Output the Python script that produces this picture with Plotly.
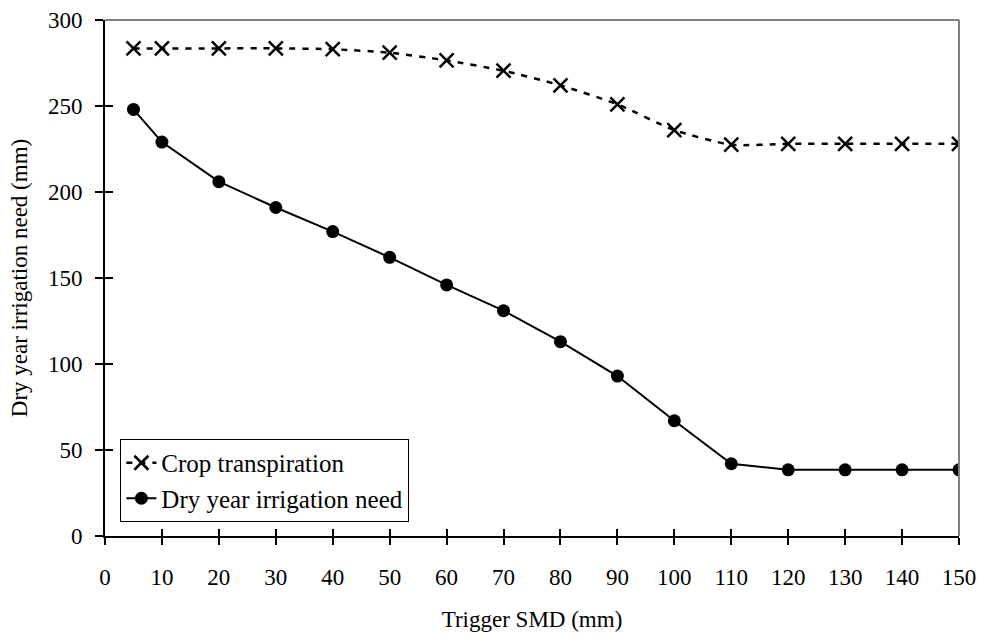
import plotly.graph_objects as go

trigger_smd = [5, 10, 20, 30, 40, 50, 60, 70, 80, 90, 100, 110, 120, 130, 140, 150]
crop_transpiration = [283.5, 283.5, 283.5, 283.5, 283, 281, 276.5, 270.5, 262, 251, 236, 227.5, 228, 228, 228, 228]
dry_year_need = [248, 229, 206, 191, 177, 162, 146, 131, 113, 93, 67, 42, 38.5, 38.5, 38.5, 38.5]
x_ticks = [0, 10, 20, 30, 40, 50, 60, 70, 80, 90, 100, 110, 120, 130, 140, 150]
y_ticks = [0, 50, 100, 150, 200, 250, 300]

FONT = "Liberation Serif, Times New Roman, serif"
FS = 23

fig = go.Figure()
fig.add_trace(go.Scatter(
    x=trigger_smd, y=crop_transpiration, name="Crop transpiration",
    mode="lines+markers",
    line=dict(color="black", width=2.5, dash="6px,7px", shape="spline", smoothing=0.6),
    marker=dict(symbol="x-thin-open", size=14, line=dict(color="black", width=2.5), color="black"),
))
fig.add_trace(go.Scatter(
    x=trigger_smd, y=dry_year_need, name="Dry year irrigation need",
    mode="lines+markers",
    line=dict(color="black", width=2),
    marker=dict(symbol="circle", size=13, color="black"),
))

fig.update_layout(
    width=981, height=639,
    margin=dict(l=105, r=22, t=20, b=103),
    paper_bgcolor="white", plot_bgcolor="white",
    font=dict(family=FONT, size=FS, color="black"),
    showlegend=True,
    legend=dict(
        x=0.018, y=0.188, xanchor="left", yanchor="top",
        bgcolor="white", bordercolor="black", borderwidth=1,
        font=dict(family=FONT, size=25, color="black"),
        tracegroupgap=0, itemwidth=30,
    ),
    xaxis=dict(
        range=[0, 150], tickvals=x_ticks, ticktext=[str(v) for v in x_ticks],
        showgrid=False, zeroline=False, showline=True, linecolor="black", linewidth=2,
        ticks="outside", ticklen=7, tickwidth=1.5, tickcolor="black",
        ticklabelstandoff=12,
        title=dict(text="Trigger SMD (mm)", standoff=22, font=dict(size=FS)),
        automargin=False,
    ),
    yaxis=dict(
        range=[0, 300], tickvals=y_ticks, ticktext=[str(v) for v in y_ticks],
        showgrid=False, zeroline=False, showline=True, linecolor="black", linewidth=2,
        ticks="outside", ticklen=8, tickwidth=1.5, tickcolor="black",
        ticklabelstandoff=8,
        title=dict(text="Dry year irrigation need (mm)", standoff=14, font=dict(size=FS)),
        automargin=False,
    ),
    xaxis2=dict(
        overlaying="x", matches="x", side="bottom", range=[0, 150], tickvals=x_ticks,
        showticklabels=False, ticks="inside", ticklen=7, tickwidth=1.5, tickcolor="black",
        showgrid=False, zeroline=False, showline=False,
    ),
    yaxis2=dict(
        overlaying="y", matches="y", side="left", range=[0, 300], tickvals=y_ticks,
        showticklabels=False, ticks="inside", ticklen=8, tickwidth=1.5, tickcolor="black",
        showgrid=False, zeroline=False, showline=False,
    ),
    shapes=[
        dict(type="line", xref="paper", yref="paper", x0=0, x1=1, y0=1, y1=1,
             line=dict(color="#808080", width=2)),
        dict(type="line", xref="paper", yref="paper", x0=1, x1=1, y0=0, y1=1,
             line=dict(color="#808080", width=2)),
    ],
)

# invisible trace to activate the overlay axes that draw the inward half of the ticks
fig.add_trace(go.Scatter(x=[0], y=[0], xaxis="x2", yaxis="y2", mode="markers",
                         marker=dict(opacity=0), showlegend=False, hoverinfo="skip"))

fig.write_html("out.html")
